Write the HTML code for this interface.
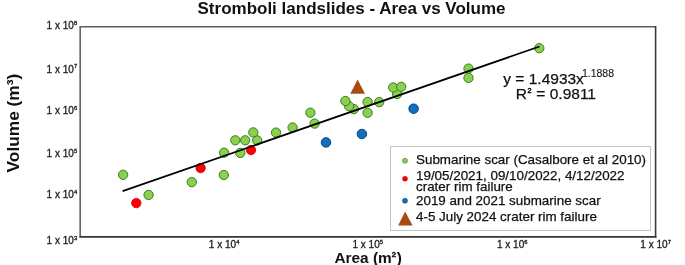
<!DOCTYPE html>
<html><head><meta charset="utf-8"><style>
html,body{margin:0;padding:0;background:#fff;width:685px;height:265px;overflow:hidden}
svg{display:block;will-change:transform}
text{font-family:"Liberation Sans",sans-serif}
.tk{font-size:10px;fill:#222;stroke:#222;stroke-width:0.32px}
</style></head><body>
<svg width="685" height="265" viewBox="0 0 685 265">
<rect width="685" height="265" fill="#fff"/>
<rect y="263" width="685" height="2" fill="#fbfbfb"/>
<text x="351.5" y="13.6" text-anchor="middle" font-weight="bold" font-size="17" fill="#111">Stromboli landslides - Area vs Volume</text>
<text transform="translate(18.9,123.1) rotate(-90)" text-anchor="middle" font-weight="bold" font-size="17.3" fill="#111">Volume (m³)</text>
<text x="334.4" y="262.8" font-weight="bold" font-size="15.4" fill="#111">Area (m<tspan dy="-5.6" font-size="7.6" stroke="#111" stroke-width="0.35">2</tspan><tspan dy="5.6" dx="0.9">)</tspan></text>
<text x="77.3" y="29.0" text-anchor="end" class="tk">1 x 10<tspan dy="-4.1" dx="0.2" font-size="5.8">8</tspan></text><text x="77.3" y="72.5" text-anchor="end" class="tk">1 x 10<tspan dy="-4.1" dx="0.2" font-size="5.8">7</tspan></text><text x="77.3" y="113.89999999999999" text-anchor="end" class="tk">1 x 10<tspan dy="-4.1" dx="0.2" font-size="5.8">6</tspan></text><text x="77.3" y="156.70000000000002" text-anchor="end" class="tk">1 x 10<tspan dy="-4.1" dx="0.2" font-size="5.8">5</tspan></text><text x="77.3" y="198.3" text-anchor="end" class="tk">1 x 10<tspan dy="-4.1" dx="0.2" font-size="5.8">4</tspan></text><text x="77.3" y="244.0" text-anchor="end" class="tk">1 x 10<tspan dy="-4.1" dx="0.2" font-size="5.8">3</tspan></text>
<text x="224.1" y="247.6" text-anchor="middle" class="tk">1 x 10<tspan dy="-4.1" dx="0.1" font-size="5.8">4</tspan></text><text x="367.8" y="247.6" text-anchor="middle" class="tk">1 x 10<tspan dy="-4.1" dx="0.1" font-size="5.8">5</tspan></text><text x="512.3" y="247.6" text-anchor="middle" class="tk">1 x 10<tspan dy="-4.1" dx="0.1" font-size="5.8">6</tspan></text><text x="655.6" y="247.6" text-anchor="middle" class="tk">1 x 10<tspan dy="-4.1" dx="0.1" font-size="5.8">7</tspan></text>
<line x1="80.2" y1="26.8" x2="655.6" y2="26.8" stroke="#5c5c5c" stroke-width="1.6"/>
<line x1="80.2" y1="26" x2="80.2" y2="236.8" stroke="#666" stroke-width="1.7"/>
<line x1="79.4" y1="236.9" x2="656.4" y2="236.9" stroke="#353535" stroke-width="1.6"/>
<line x1="655.6" y1="26" x2="655.6" y2="237.6" stroke="#3a3a3a" stroke-width="1.6"/>
<circle cx="539.3" cy="48.2" r="4.65" fill="#8ad04f" stroke="#3f7a24" stroke-width="1.0"/><circle cx="468.5" cy="77.9" r="4.65" fill="#8ad04f" stroke="#3f7a24" stroke-width="1.0"/><circle cx="468.5" cy="68.6" r="4.65" fill="#8ad04f" stroke="#3f7a24" stroke-width="1.0"/><circle cx="397.1" cy="94.0" r="4.65" fill="#8ad04f" stroke="#3f7a24" stroke-width="1.0"/><circle cx="393.2" cy="87.5" r="4.65" fill="#8ad04f" stroke="#3f7a24" stroke-width="1.0"/><circle cx="401.2" cy="86.8" r="4.65" fill="#8ad04f" stroke="#3f7a24" stroke-width="1.0"/><circle cx="379.2" cy="102.1" r="4.65" fill="#8ad04f" stroke="#3f7a24" stroke-width="1.0"/><circle cx="367.6" cy="112.8" r="4.65" fill="#8ad04f" stroke="#3f7a24" stroke-width="1.0"/><circle cx="367.6" cy="102.0" r="4.65" fill="#8ad04f" stroke="#3f7a24" stroke-width="1.0"/><circle cx="353.9" cy="109.1" r="4.65" fill="#8ad04f" stroke="#3f7a24" stroke-width="1.0"/><circle cx="349.1" cy="106.2" r="4.65" fill="#8ad04f" stroke="#3f7a24" stroke-width="1.0"/><circle cx="345.4" cy="101.0" r="4.65" fill="#8ad04f" stroke="#3f7a24" stroke-width="1.0"/><circle cx="314.6" cy="123.6" r="4.65" fill="#8ad04f" stroke="#3f7a24" stroke-width="1.0"/><circle cx="310.4" cy="112.7" r="4.65" fill="#8ad04f" stroke="#3f7a24" stroke-width="1.0"/><circle cx="292.6" cy="127.5" r="4.65" fill="#8ad04f" stroke="#3f7a24" stroke-width="1.0"/><circle cx="276.0" cy="132.6" r="4.65" fill="#8ad04f" stroke="#3f7a24" stroke-width="1.0"/><circle cx="257.2" cy="140.4" r="4.65" fill="#8ad04f" stroke="#3f7a24" stroke-width="1.0"/><circle cx="253.3" cy="132.4" r="4.65" fill="#8ad04f" stroke="#3f7a24" stroke-width="1.0"/><circle cx="245.2" cy="140.3" r="4.65" fill="#8ad04f" stroke="#3f7a24" stroke-width="1.0"/><circle cx="240.3" cy="152.9" r="4.65" fill="#8ad04f" stroke="#3f7a24" stroke-width="1.0"/><circle cx="235.3" cy="140.3" r="4.65" fill="#8ad04f" stroke="#3f7a24" stroke-width="1.0"/><circle cx="224.1" cy="152.7" r="4.65" fill="#8ad04f" stroke="#3f7a24" stroke-width="1.0"/><circle cx="223.8" cy="175.0" r="4.65" fill="#8ad04f" stroke="#3f7a24" stroke-width="1.0"/><circle cx="191.8" cy="182.1" r="4.65" fill="#8ad04f" stroke="#3f7a24" stroke-width="1.0"/><circle cx="148.6" cy="194.9" r="4.65" fill="#8ad04f" stroke="#3f7a24" stroke-width="1.0"/><circle cx="123.1" cy="174.8" r="4.65" fill="#8ad04f" stroke="#3f7a24" stroke-width="1.0"/><circle cx="136.3" cy="203.1" r="4.7" fill="#ff0000" stroke="#c40000" stroke-width="0.8"/><circle cx="200.6" cy="168.0" r="4.7" fill="#ff0000" stroke="#c40000" stroke-width="0.8"/><circle cx="251.0" cy="150.0" r="4.7" fill="#ff0000" stroke="#c40000" stroke-width="0.8"/><circle cx="326.0" cy="142.4" r="4.75" fill="#0f6fc0" stroke="#0b4279" stroke-width="1.0"/><circle cx="361.9" cy="134.0" r="4.75" fill="#0f6fc0" stroke="#0b4279" stroke-width="1.0"/><circle cx="413.6" cy="108.7" r="4.75" fill="#0f6fc0" stroke="#0b4279" stroke-width="1.0"/>
<polygon points="357.6,79.4 350.3,93.7 365.0,93.7" fill="#a84b10"/>
<line x1="122.6" y1="191.1" x2="539.5" y2="46.5" stroke="#000" stroke-width="1.7"/>
<g font-size="15.5" fill="#111" stroke="#111" stroke-width="0.25">
<text x="503.3" y="83.7">y = 1.4933x</text>
<text x="581.9" y="76.8" font-size="10.5" stroke-width="0.1">1.1888</text>
<text x="515.7" y="98.6">R</text>
<text x="527.6" y="93.1" font-size="7.3" stroke-width="0.5">2</text>
<text x="532.05" y="98.6" xml:space="preserve"> = 0.9811</text>
</g>
<rect x="390.5" y="146.5" width="260" height="84" fill="#fff" stroke="#c4c4c4" stroke-width="1"/>
<circle cx="405.0" cy="160.8" r="2.5" fill="#8ad04f" stroke="#3f7a24" stroke-width="0.6"/>
<circle cx="405.0" cy="178.7" r="2.5" fill="#ff0000" stroke="#c40000" stroke-width="0.5"/>
<circle cx="405.0" cy="200.7" r="2.5" fill="#0f6fc0" stroke="#0b4279" stroke-width="0.6"/>
<polygon points="405.1,211.4 398.1,225.6 412.6,225.6" fill="#a84b10"/>
<g font-size="13.4" fill="#111" stroke="#111" stroke-width="0.25">
<text x="416" y="164.3">Submarine scar (Casalbore et al 2010)</text>
<text x="416" y="180.4">19/05/2021, 09/10/2022, 4/12/2022</text>
<text x="416" y="191.3">crater rim failure</text>
<text x="416" y="205.4">2019 and 2021 submarine scar</text>
<text x="416" y="221.4">4-5 July 2024 crater rim failure</text>
</g>
</svg>
</body></html>
